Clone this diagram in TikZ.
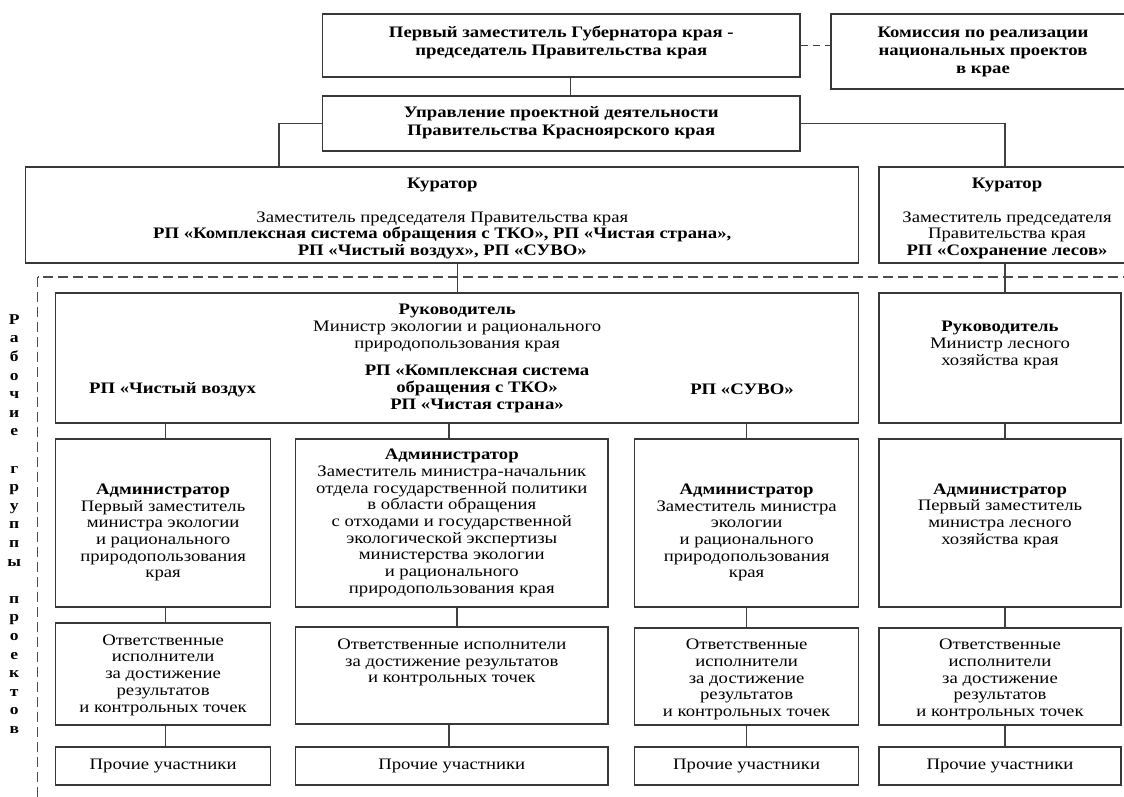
\documentclass[tikz,border=0pt]{standalone}
\usepackage{fontspec}
\setmainfont{Liberation Serif}[FakeStretch=1.17]

\tikzset{
  box/.style={draw=black!78, line width=1.2pt, inner sep=0pt},
  txt/.style={align=center, inner sep=0pt, font=\fontsize{16}{16.7}\selectfont},
  head/.style={align=center, inner sep=0pt, font=\bfseries\fontsize{16}{18}\selectfont},
  link/.style={draw=black!75, line width=1.2pt},
  frame/.style={draw=black!70, line width=1.3pt, dash pattern=on 10pt off 5pt},
}

\begin{document}
\begin{tikzpicture}[x=1pt,y=-1pt]
  \useasboundingbox (0,0) rectangle (1124,796);
  % top
  \node[box, minimum width=477.4pt, minimum height=63pt] (gov) at (561.3,45.5) {};
  \node[box, minimum width=304pt, minimum height=75pt] (kom) at (983,51.5) {};
  \node[box, minimum width=477.4pt, minimum height=55pt] (upr) at (561.3,123.5) {};
  \node[head] (govt) at (561.3,42.5) {Первый заместитель Губернатора края -\\председатель Правительства края};
  \node[head] (komt) at (983,51.5) {Комиссия по реализации\\национальных проектов\\в крае};
  \node[head] (uprt) at (561.3,122.5) {Управление проектной деятельности\\Правительства Красноярского края};
  % curators
  \node[box, minimum width=833pt, minimum height=96pt] (k1) at (442.3,215) {};
  \node[box, minimum width=256pt, minimum height=96pt] (k2) at (1007,215) {};
  \node[txt] (k1t) at (442.3,218.5) {\textbf{Куратор}\\[16.7pt]Заместитель председателя Правительства края\\
    \textbf{РП «Комплексная система обращения с ТКО», РП «Чистая страна»,}\\
    \textbf{РП «Чистый воздух», РП «СУВО»}};
  \node[txt] (k2t) at (1007,218.5) {\textbf{Куратор}\\[16.7pt]Заместитель председателя\\Правительства края\\
    \textbf{РП «Сохранение лесов»}};
  % working groups
  \draw[frame] (37.6,277) rectangle (1140,810);
  \node[txt, font=\bfseries\fontsize{15}{18.6}\selectfont] (grp) at (14.3,524)
    {Р\\а\\б\\о\\ч\\и\\е\\[18.6pt]г\\р\\у\\п\\п\\ы\\[18.6pt]п\\р\\о\\е\\к\\т\\о\\в};
  % heads
  \node[box, minimum width=803.2pt, minimum height=130pt] (r1) at (457.2,358) {};
  \node[box, minimum width=242pt, minimum height=130pt] (r2) at (1000,358) {};
  \node[txt] (r1t) at (457.2,328) {\textbf{Руководитель}\\Министр экологии и рационального\\природопользования края};
  \node[txt, font=\bfseries\fontsize{16}{16.7}\selectfont] (rpa) at (172.6,389.5) {РП «Чистый воздух};
  \node[txt, font=\bfseries\fontsize{16}{16.7}\selectfont] (rpb) at (477,389) {РП «Комплексная система\\обращения с ТКО»\\РП «Чистая страна»};
  \node[txt, font=\bfseries\fontsize{16}{16.7}\selectfont] (rpc) at (742,389.5) {РП «СУВО»};
  \node[txt] (r2t) at (1000,345) {\textbf{Руководитель}\\Министр лесного\\хозяйства края};
  % administrators
  \node[box, minimum width=215pt, minimum height=168pt] (a1) at (163.1,523) {};
  \node[box, minimum width=312.2pt, minimum height=168pt] (a2) at (451.8,523) {};
  \node[box, minimum width=224.4pt, minimum height=168pt] (a3) at (746.6,523) {};
  \node[box, minimum width=242pt, minimum height=168pt] (a4) at (1000,523) {};
  \node[txt] (a1t) at (163.1,532.5) {\textbf{Администратор}\\Первый заместитель\\министра экологии\\и рационального\\природопользования\\края};
  \node[txt] (a2t) at (451.8,523) {\textbf{Администратор}\\Заместитель министра-начальник\\отдела государственной политики\\в области обращения\\
    с отходами и государственной\\экологической экспертизы\\министерства экологии\\и рационального\\природопользования края};
  \node[txt] (a3t) at (746.6,532.5) {\textbf{Администратор}\\Заместитель министра\\экологии\\и рационального\\природопользования\\края};
  \node[txt] (a4t) at (1000,515.5) {\textbf{Администратор}\\Первый заместитель\\министра лесного\\хозяйства края};
  % executors
  \node[box, minimum width=215pt, minimum height=102pt] (o1) at (163.1,674) {};
  \node[box, minimum width=312.2pt, minimum height=97pt] (o2) at (451.8,675.5) {};
  \node[box, minimum width=224.4pt, minimum height=97pt] (o3) at (746.6,676.5) {};
  \node[box, minimum width=242pt, minimum height=97pt] (o4) at (1000,676.5) {};
  \node[txt] (o1t) at (163.1,675) {Ответственные\\исполнители\\за достижение\\результатов\\и контрольных точек};
  \node[txt] (o2t) at (451.8,662.5) {Ответственные исполнители\\за достижение результатов\\и контрольных точек};
  \node[txt] (o3t) at (746.6,679.5) {Ответственные\\исполнители\\за достижение\\результатов\\и контрольных точек};
  \node[txt] (o4t) at (1000,679.5) {Ответственные\\исполнители\\за достижение\\результатов\\и контрольных точек};
  % others
  \node[box, txt, draw=black!78, minimum width=215pt, minimum height=38pt] (p1) at (163.1,766) {Прочие участники};
  \node[box, txt, draw=black!78, minimum width=312.2pt, minimum height=38pt] (p2) at (451.8,766) {Прочие участники};
  \node[box, txt, draw=black!78, minimum width=224.4pt, minimum height=38pt] (p3) at (746.6,766) {Прочие участники};
  \node[box, txt, draw=black!78, minimum width=242pt, minimum height=38pt] (p4) at (1000,766) {Прочие участники};
  % links
  \draw[link] ([xshift=9.3pt]gov.south) -- ([xshift=9.3pt]upr.north);
  \draw[link, dash pattern=on 7pt off 5pt] (gov.east) -- (gov.east -| kom.west);
  \draw[link] (upr.west) -| ([xshift=-163.3pt]k1.north);
  \draw[link] (upr.east) -| ([xshift=-2pt]k2.north);
  \draw[link] (k1.south -| r1.north) -- (r1.north);
  \draw[link] ([xshift=5pt]r2.north) -- ([xshift=5pt]r2.north |- k2.south);
  \draw[link] ([xshift=2.5pt]a1.north) -- ([xshift=2.5pt]a1.north |- r1.south);
  \draw[link] ([xshift=-2.8pt]a2.north) -- ([xshift=-2.8pt]a2.north |- r1.south);
  \draw[link] (a3.north) -- (a3.north |- r1.south);
  \draw[link] ([xshift=5pt]a4.north) -- ([xshift=5pt]a4.north |- r2.south);
  \draw[link] ([xshift=2.5pt]a1.south) -- ([xshift=2.5pt]o1.north);
  \draw[link] ([xshift=5.2pt]a2.south) -- ([xshift=5.2pt]o2.north);
  \draw[link] (a3.south) -- (o3.north);
  \draw[link] ([xshift=5pt]a4.south) -- ([xshift=5pt]o4.north);
  \draw[link] ([xshift=2.5pt]o1.south) -- ([xshift=2.5pt]p1.north);
  \draw[link] ([xshift=-2.8pt]o2.south) -- ([xshift=-2.8pt]p2.north);
  \draw[link] (o3.south) -- (p3.north);
  \draw[link] ([xshift=5pt]o4.south) -- ([xshift=5pt]p4.north);
\end{tikzpicture}
\end{document}
